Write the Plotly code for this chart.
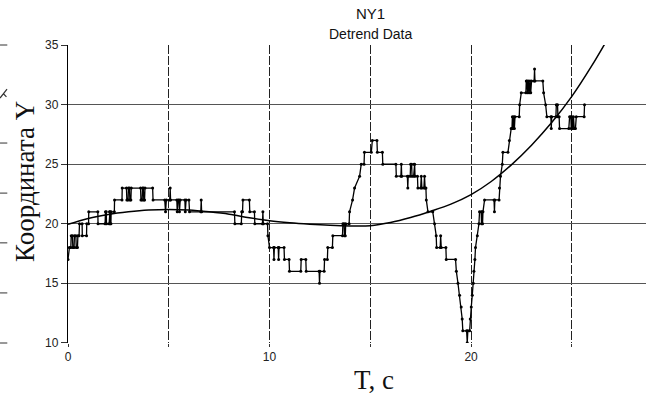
import plotly.graph_objects as go

# ---- data: sampled coordinate (step series) ----
t_data = [0.00, 0.07, 0.14, 0.16, 0.22, 0.24, 0.30, 0.32, 0.39, 0.41, 0.47, 0.49, 0.55, 0.57, 0.70, 0.71,
          0.92, 0.93, 1.02, 1.03, 1.48, 1.49, 1.84, 1.86, 1.90, 1.91, 2.04, 2.06, 2.08, 2.09, 2.13, 2.14,
          2.30, 2.31, 2.68, 2.69, 2.90, 2.92, 2.98, 3.00, 3.05, 3.07, 3.12, 3.14, 3.60, 3.62, 3.68, 3.70,
          3.74, 3.76, 3.80, 3.82, 4.20, 4.22, 4.80, 4.84, 4.88, 5.05, 5.07, 5.09, 5.40, 5.42, 5.46, 5.51,
          5.53, 5.57, 5.80, 5.82, 5.86, 6.00, 6.03, 6.59, 6.61, 6.63, 8.26, 8.28, 8.60, 8.62, 8.66, 8.68,
          9.00, 9.02, 9.25, 9.27, 9.65, 9.67, 9.69, 9.90, 9.92, 10.00, 10.20, 10.22, 10.24, 10.43, 10.45, 10.47,
          10.72, 10.74, 10.97, 10.99, 11.55, 11.57, 11.80, 11.82, 12.46, 12.48, 12.50, 12.71, 12.73, 12.87, 12.89, 13.12,
          13.14, 13.62, 13.64, 13.70, 13.72, 13.76, 13.78, 13.95, 13.97, 14.12, 14.22, 14.47, 14.55, 14.69, 14.71, 15.05,
          15.10, 15.33, 15.35, 15.60, 15.62, 16.27, 16.29, 16.52, 16.54, 16.56, 16.84, 16.86, 16.88, 16.98, 17.00, 17.05,
          17.07, 17.15, 17.17, 17.20, 17.22, 17.34, 17.36, 17.50, 17.53, 17.56, 17.66, 17.69, 17.72, 17.76, 17.78, 17.86,
          18.10, 18.19, 18.27, 18.29, 18.47, 18.49, 18.52, 18.75, 18.77, 19.23, 19.27, 19.35, 19.43, 19.51, 19.56, 19.59,
          19.78, 19.81, 19.84, 19.93, 19.96, 20.01, 20.06, 20.11, 20.14, 20.19, 20.22, 20.31, 20.39, 20.42, 20.50, 20.52,
          20.55, 20.57, 20.59, 20.67, 21.14, 21.16, 21.18, 21.39, 21.41, 21.46, 21.55, 21.58, 21.83, 21.90, 21.99, 22.03,
          22.05, 22.08, 22.12, 22.15, 22.18, 22.39, 22.41, 22.49, 22.72, 22.74, 22.78, 22.80, 22.84, 22.88, 22.92, 22.96,
          23.00, 23.13, 23.15, 23.17, 23.56, 23.60, 23.70, 23.76, 23.96, 23.98, 24.00, 24.21, 24.23, 24.29, 24.31, 24.37,
          24.39, 24.85, 24.89, 24.95, 24.97, 25.00, 25.04, 25.08, 25.12, 25.18, 25.22, 25.61, 25.63]
y_data = [17, 18, 18, 19, 19, 18, 18, 19, 19, 18, 18, 19, 19, 20, 20, 19,
          19, 20, 20, 21, 21, 20, 20, 21, 21, 20, 20, 21, 21, 20, 20, 21,
          21, 22, 22, 23, 23, 22, 22, 23, 23, 22, 22, 23, 23, 22, 22, 23,
          23, 22, 22, 23, 23, 22, 22, 21, 22, 22, 23, 22, 22, 21, 22, 22,
          21, 22, 22, 21, 22, 22, 21, 21, 22, 21, 21, 20, 20, 21, 21, 22,
          22, 21, 21, 20, 20, 21, 20, 20, 19, 18, 18, 17, 18, 18, 17, 18,
          18, 17, 17, 16, 16, 17, 17, 16, 16, 15, 16, 16, 17, 17, 18, 18,
          19, 19, 20, 20, 19, 19, 20, 20, 21, 22, 23, 24, 25, 25, 26, 26,
          27, 27, 26, 26, 25, 25, 24, 24, 25, 24, 24, 23, 24, 24, 25, 25,
          24, 24, 25, 25, 24, 24, 23, 23, 24, 23, 23, 24, 23, 23, 22, 21,
          21, 20, 19, 18, 18, 19, 18, 18, 17, 17, 16, 15, 14, 13, 12, 11,
          11, 10, 11, 11, 12, 13, 14, 15, 16, 17, 18, 19, 20, 21, 21, 20,
          21, 20, 21, 22, 22, 21, 22, 22, 23, 24, 25, 26, 26, 27, 28, 28,
          29, 28, 29, 28, 29, 29, 30, 31, 31, 32, 32, 31, 32, 31, 32, 31,
          32, 32, 33, 32, 32, 31, 30, 29, 29, 28, 29, 29, 30, 30, 29, 29,
          28, 28, 29, 29, 28, 29, 28, 29, 28, 28, 29, 29, 30]

# ---- trend (polynomial fit) ----
t_trend = [0, 1, 2, 3, 4, 5, 6, 7, 8, 9, 10, 11, 12, 13, 14, 15, 16, 17, 18, 19, 20, 21, 22, 23, 24, 25, 26, 26.8]
y_trend = [19.95, 20.45, 20.78, 21.0, 21.15, 21.2, 21.15, 21.0, 20.8, 20.5, 20.25, 20.08, 19.96, 19.87,
           19.82, 19.84, 20.1, 20.52, 21.05, 21.65, 22.45, 23.55, 24.95, 26.6, 28.5, 30.7, 33.3, 35.6]

# ---- ticks ----
x_tick_vals = [0, 5, 10, 15, 20, 25]
x_tick_text = ["0", "", "10", "", "20", ""]
y_tick_vals = [10, 15, 20, 25, 30, 35]
y_tick_text = ["10", "15", "20", "25", "30", "35"]

title_text = "NY1"
subtitle_text = "Detrend Data"
x_title = "T, c"
y_title = "Координата Y"

fig = go.Figure()
fig.add_trace(go.Scatter(
    x=t_trend, y=y_trend, mode="lines", line=dict(color="black", width=1.5, shape="spline"),
    hoverinfo="skip", showlegend=False))
fig.add_trace(go.Scatter(
    x=t_data, y=y_data, mode="lines+markers",
    line=dict(color="black", width=1.3),
    marker=dict(color="black", size=3),
    showlegend=False))

serif = "Liberation Serif, Times New Roman, serif"
sans = "Liberation Sans, Arial, sans-serif"

fig.update_layout(
    width=652, height=396,
    margin=dict(l=68, r=6, t=45, b=53, autoexpand=False),
    paper_bgcolor="white", plot_bgcolor="white",
    font=dict(family=sans, color="#222", size=12),
    xaxis=dict(range=[0, 28.68], tickvals=x_tick_vals, ticktext=x_tick_text, automargin=False,
               showgrid=True, gridcolor="#222", gridwidth=1, griddash="9px,2px",
               zeroline=False, showline=False, ticks="outside", ticklen=3, tickcolor="#333",
               tickfont=dict(size=12, color="#222")),
    yaxis=dict(range=[9.98, 35.02], tickvals=y_tick_vals, ticktext=y_tick_text, automargin=False,
               showgrid=True, gridcolor="#555", gridwidth=1.4,
               zeroline=False, showline=True, linecolor="black", linewidth=1.3,
               ticks="outside", ticklen=6, tickcolor="#333",
               tickfont=dict(size=12, color="#222")),
    annotations=[
        dict(text=title_text, x=0.524, y=1.105, xref="paper", yref="paper", showarrow=False,
             xanchor="center", yanchor="middle",
             font=dict(size=15, color="#111", family=sans)),
        dict(text=subtitle_text, x=0.524, y=1.037, xref="paper", yref="paper", showarrow=False,
             xanchor="center", yanchor="middle",
             font=dict(size=14, color="#111", family=sans)),
        dict(text=x_title, x=0.529, y=-0.125, xref="paper", yref="paper", showarrow=False,
             xanchor="center", yanchor="middle",
             font=dict(size=27, color="#111", family=serif)),
        dict(text=y_title, x=-0.0744, y=0.544, xref="paper", yref="paper", showarrow=False, textangle=-90,
             xanchor="center", yanchor="middle",
             font=dict(size=27, color="#111", family=serif)),
    ],
)

# ghost tick marks at the far left edge (remnants of a neighbouring chart)
for yp in [1.0, 0.671, 0.503, 0.336, 0.168, 0.0]:
    fig.add_shape(type="line", xref="paper", yref="paper", x0=-0.1176, x1=-0.105, y0=yp, y1=yp,
                  line=dict(color="#333", width=1))
# ghost glyph fragment at the far left edge
fig.add_shape(type="path", xref="paper", yref="paper",
              path="M -0.1055 0.852 L -0.1176 0.822 M -0.1125 0.838 L -0.1065 0.826",
              line=dict(color="#333", width=1.2))

fig.write_html("out.html", config={"displayModeBar": False},
               post_script="document.body.style.margin='0';document.body.style.overflow='hidden';")
